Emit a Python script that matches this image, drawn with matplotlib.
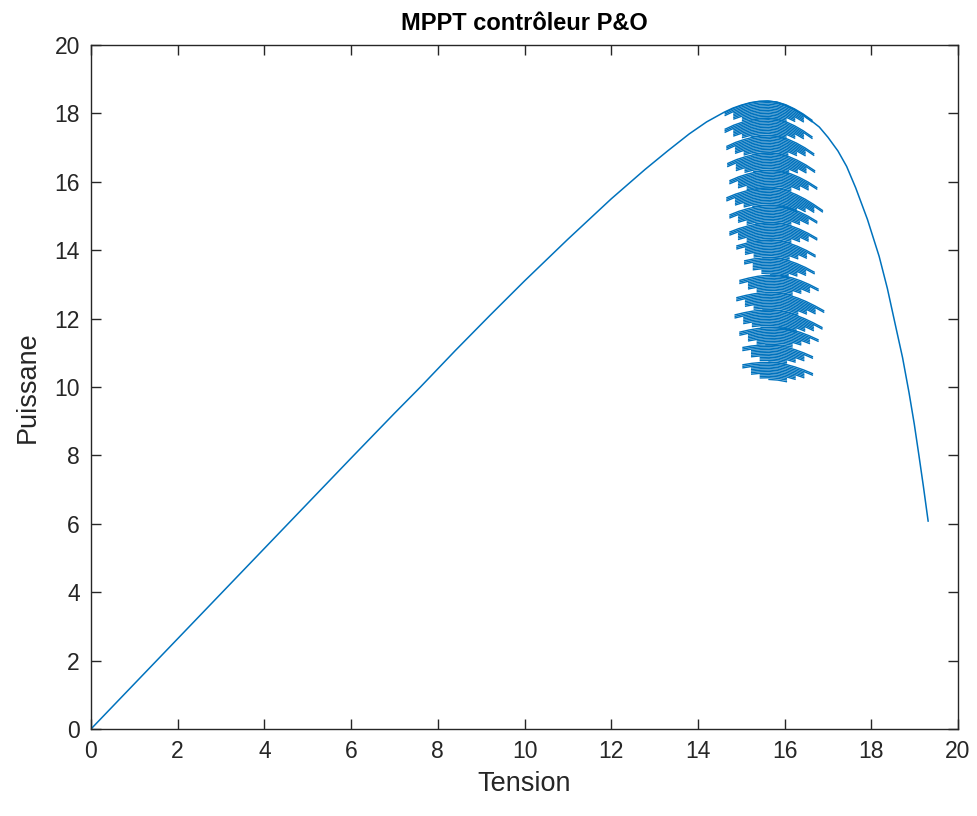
import matplotlib
matplotlib.use("Agg")
import matplotlib.pyplot as plt

# P-V curve of the panel
tension = [0, 1, 2, 3, 4, 5, 6, 7, 7.6, 8.4, 9.2, 10, 11, 12, 12.78, 13.3, 13.8,
           14.2, 14.6, 14.8, 15.0, 15.2, 15.4, 15.6, 15.8, 16.0, 16.2, 16.4, 16.6, 16.8,
           17.0, 17.23, 17.43, 17.64, 17.91, 18.18, 18.37, 18.56, 18.72, 18.87,
           18.99, 19.1, 19.2, 19.31]
puissance = [0, 1.32, 2.64, 3.96, 5.28, 6.6, 7.92, 9.23, 10.0, 11.06, 12.09, 13.1, 14.32,
             15.5, 16.36, 16.9, 17.4, 17.75, 18.03, 18.15, 18.24, 18.31, 18.35, 18.36,
             18.33, 18.25, 18.13, 17.98, 17.8, 17.6, 17.3, 16.9, 16.45, 15.82, 14.9,
             13.82, 12.88, 11.78, 10.86, 9.83, 8.92, 7.98, 7.1, 6.08]

# part of the curve around the MPP that the P&O oscillation keeps sweeping
mpp_v = [14.6, 14.8, 15.0, 15.2, 15.4, 15.6, 15.8, 16.0, 16.2, 16.4, 16.6, 16.8]
mpp_p = [18.03, 18.15, 18.24, 18.31, 18.35, 18.36, 18.33, 18.25, 18.13, 17.98, 17.8, 17.6]

# one "feather" per irradiance step (top to bottom)
layer_level = [18.36, 17.86, 17.35, 16.84, 16.33, 15.82, 15.31, 14.8, 14.29, 13.78,
               13.27, 12.76, 12.25, 11.74, 11.23, 10.72]
layer_shift = [0.03, 0.03, 0.07, 0.09, 0.14, 0.07, 0.14, 0.14, 0.1, 0.08, 0.17, 0.1,
               0.06, 0.17, 0.04, 0.04]
layer_left = [0, 0, 0, 0, 0, 0, 0, 0, 1, 2, 1, 1, 1, 1, 2, 2]
layer_right = [10, 10, 10, 10, 10, 11, 10, 10, 10, 10, 10, 11, 11, 10, 10, 10]

# sweeps inside one feather: drop below the layer level, and trimming of the ends
sweep_drop = [0.0, 0.045, 0.09, 0.135, 0.18, 0.225, 0.27, 0.315, 0.36, 0.405, 0.45, 0.5]
sweep_trim_left = [0, 0, 0, 1, 1, 1, 1, 1, 2, 2, 2, 3]
sweep_trim_right = [0, 0, 1, 1, 1, 1, 2, 2, 2, 3, 3, 3]

blue = "#0072BD"
dark = "#262626"

plt.rcParams["font.family"] = ["Liberation Sans", "DejaVu Sans"]

fig = plt.figure(figsize=(9.77, 8.16), dpi=100)
ax = fig.add_axes([0.0931, 0.1066, 0.8875, 0.8383])

ax.plot(tension, puissance, color=blue, lw=1.1)

peak = max(mpp_p)
for lev, sh, li, ri in zip(layer_level, layer_shift, layer_left, layer_right):
    k = lev / peak
    for d, tl, tr in zip(sweep_drop, sweep_trim_left, sweep_trim_right):
        a = li + tl
        b = ri - tr
        if b - a < 1:
            continue
        vs = [v + sh for v in mpp_v[a:b + 1]]
        ps = [p * k - d for p in mpp_p[a:b + 1]]
        ax.plot(vs, ps, color=blue, lw=1.0)

ax.set_xlim(0, 20)
ax.set_ylim(0, 20)
ax.set_xticks(range(0, 21, 2))
ax.set_yticks(range(0, 21, 2))
ax.tick_params(direction="in", length=7, width=1.0, top=True, right=True,
               labelsize=16.5, colors=dark, pad=8)
for s in ax.spines.values():
    s.set_color(dark)
    s.set_linewidth(1.0)

ax.set_xlabel("Tension", fontsize=19.5, color=dark, labelpad=6)
ax.set_ylabel("Puissane", fontsize=19.5, color=dark, labelpad=10)
ax.set_title("MPPT contrôleur P&O", fontsize=17, fontweight="bold", color="black", pad=11)

fig.savefig("out.png", dpi=100)
